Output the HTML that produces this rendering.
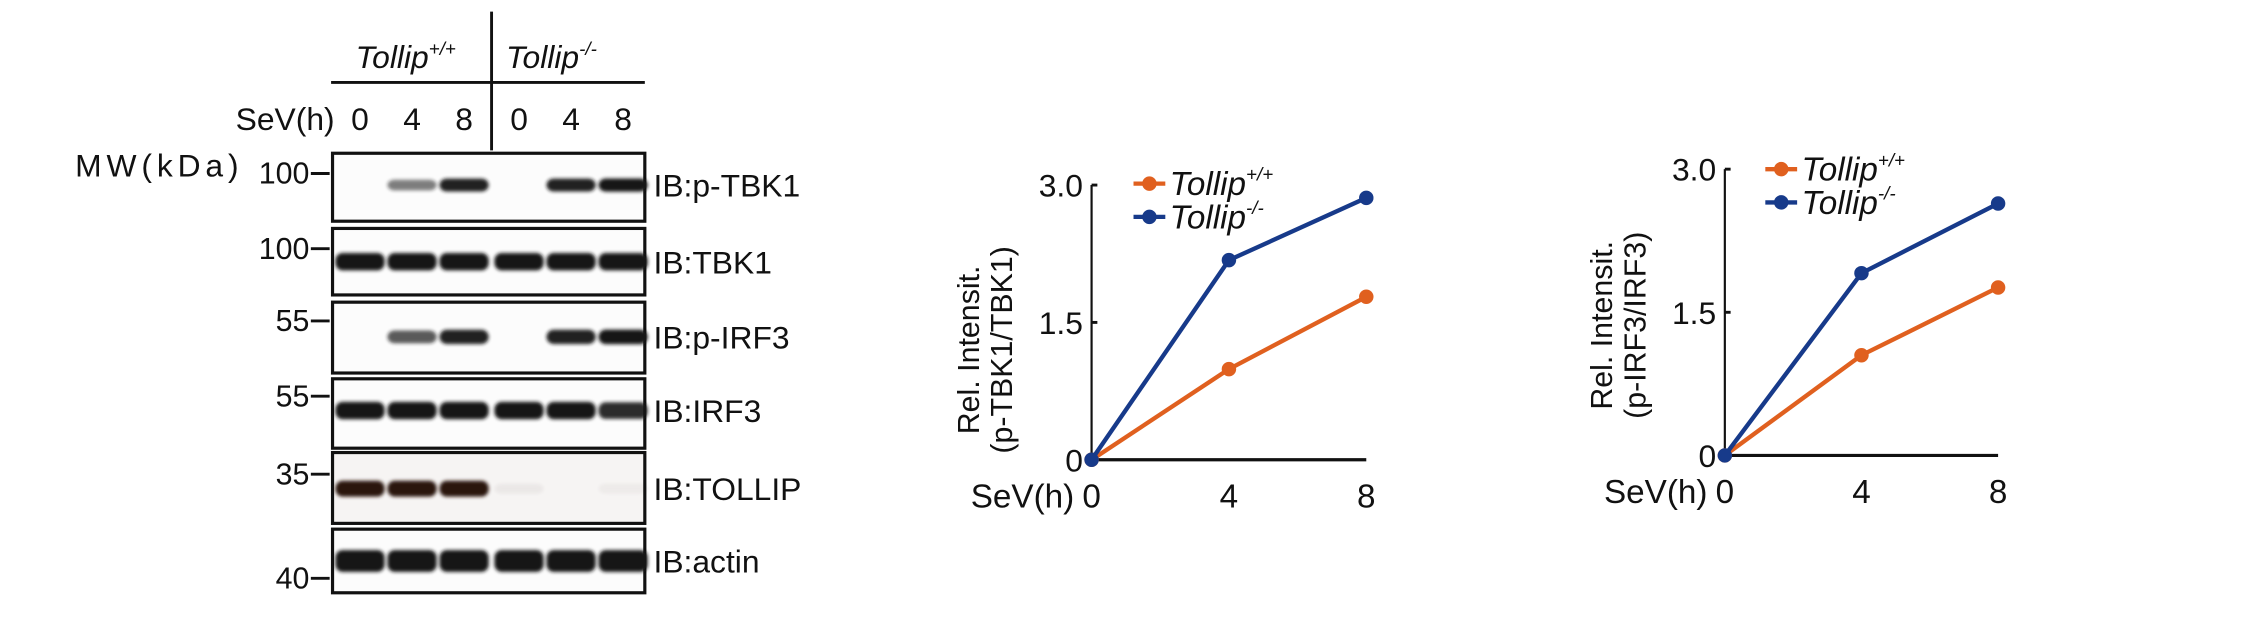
<!DOCTYPE html>
<html><head><meta charset="utf-8"><style>
html,body{margin:0;padding:0;background:#fff;width:2267px;height:613px;overflow:hidden}
#wrap{width:1568px;height:424px;transform:scale(1.4458);transform-origin:0 0;position:absolute;left:0;top:0}
text{font-family:"Liberation Sans",sans-serif;fill:#111}
</style></head><body>
<div id="wrap">
<svg width="1568" height="424" viewBox="0 0 1568 424" xmlns="http://www.w3.org/2000/svg">
<defs><filter id="blur" x="-20%" y="-50%" width="140%" height="200%"><feGaussianBlur stdDeviation="1.3"/></filter></defs>
<g id="blot">
  <line x1="340" y1="8" x2="340" y2="104" stroke="#111" stroke-width="2"/>
  <line x1="229" y1="57" x2="446" y2="57" stroke="#111" stroke-width="2"/>
  <text x="246" y="47" font-size="22" font-style="italic">Tollip<tspan font-size="13" dy="-9">+/+</tspan></text>
  <text x="350" y="47" font-size="22" font-style="italic">Tollip<tspan font-size="13" dy="-9">-/-</tspan></text>
  <text x="163" y="90" font-size="22">SeV(h)</text>
  <g font-size="22" text-anchor="middle">
    <text x="249" y="90">0</text><text x="285" y="90">4</text><text x="321" y="90">8</text>
    <text x="359" y="90">0</text><text x="395" y="90">4</text><text x="431" y="90">8</text>
  </g>
  <text x="52" y="122" font-size="22" textLength="113">MW(kDa)</text>
  <g id="rows"></g>
</g>
<g id="chart1"></g>
<g id="chart2"></g>
</svg>
</div>
<script>
const NS="http://www.w3.org/2000/svg";
function mk(tag,attrs,parent,txt){const e=document.createElementNS(NS,tag);for(const k in attrs)e.setAttribute(k,attrs[k]);if(txt!==undefined)e.textContent=txt;parent.appendChild(e);return e;}
const lanes=[249,285,321,359,395,431];
const blotRows=[
 {name:"p-TBK1",top:106,bot:153,mw:"100",mwy:120,band:128,int:[0,0.55,0.95,0,0.95,1],h:9},
 {name:"TBK1",top:158,bot:204,mw:"100",mwy:172,band:181,int:[1,1,1,1,1,1],h:12},
 {name:"p-IRF3",top:209,bot:258,mw:"55",mwy:222,band:233,int:[0,0.7,0.95,0,0.95,1],h:10},
 {name:"IRF3",top:262,bot:310,mw:"55",mwy:274,band:284,int:[1,1,1,1,1,0.9],h:12},
 {name:"TOLLIP",top:313,bot:362,mw:"35",mwy:328,band:338,int:[1,1,1,0.05,0,0.04],h:11,col:"#2a1410",bg:"#f6f4f3"},
 {name:"actin",top:366,bot:410,mw:"40",mwy:400,band:388,int:[1,1,1,1,1,1],h:15}
];
const rows=document.getElementById('rows');
blotRows.forEach(r=>{
  const g=mk('g',{},rows);
  
  
  mk('rect',{x:230,y:r.top,width:216,height:r.bot-r.top,fill:r.bg||"#fcfcfc",stroke:"#111","stroke-width":2.2},g);
  r.int.forEach((v,i)=>{ if(v<=0) return;
    const b=mk('rect',{x:lanes[i]-17,y:r.band-r.h/2*(0.6+0.4*v),width:34,height:r.h*(0.6+0.4*v),rx:5,fill:r.col||"#151515",opacity:v,filter:"url(#blur)"},g);
    
    
  });
  const l=mk('text',{x:452,y:r.band+8,"font-size":22},g,"IB:"+r.name);
  
  
  const m=mk('text',{x:214,y:r.mwy+7,"font-size":21,"text-anchor":"end"},g,r.mw);
  
  
  mk('line',{x1:215,y1:r.mwy,x2:228,y2:r.mwy,stroke:"#111","stroke-width":2},g);
});
const timePoints=[0,4,8];
const yTicks=[0,1.5,3.0];
const yTickLabels=["0","1.5","3.0"];
const tbkWT=[0,0.99,1.78];
const tbkKO=[0,2.18,2.86];
const irfWT=[0,1.05,1.76];
const irfKO=[0,1.91,2.64];
const ORANGE="#e0601f", BLUE="#173a8a";
function chart(gid,cfg){
  const g=document.getElementById(gid);
  const xs=v=>cfg.x0+(cfg.x1-cfg.x0)*v/8;
  const ys=v=>cfg.y0-(cfg.y0-cfg.y3)*v/3;
  const ax=mk('line',{x1:cfg.x0,y1:ys(3),x2:cfg.x0,y2:cfg.y0,stroke:"#111","stroke-width":1.5},g);
  
  const xa=mk('line',{x1:cfg.x0,y1:cfg.y0,x2:cfg.x1,y2:cfg.y0,stroke:"#111","stroke-width":2.2},g);
  
  yTicks.forEach((t,i)=>{
    mk('line',{x1:cfg.x0,y1:ys(t),x2:cfg.x0+4,y2:ys(t),stroke:"#111","stroke-width":2},g);
    const tl=mk('text',{x:cfg.x0-6,y:ys(t)+8,"font-size":22,"text-anchor":"end"},g,yTickLabels[i]);
    
  });
  timePoints.forEach(t=>{
    const xl=mk('text',{x:xs(t),y:cfg.y0+33,"font-size":23,"text-anchor":"middle"},g,String(t));
    
  });
  const sv=mk('text',{x:cfg.x0-12,y:cfg.y0+33,"font-size":23,"text-anchor":"end"},g,"SeV(h)");
  
  const tg=mk('text',{transform:`translate(${cfg.tx},${cfg.ty}) rotate(-90)`,"font-size":21,"text-anchor":"middle"},g);
  
  mk('tspan',{x:0,dy:0},tg,"Rel. Intensit.");
  mk('tspan',{x:0,dy:23},tg,cfg.title);
  [[cfg.wt,ORANGE,"wt"],[cfg.ko,BLUE,"ko"]].forEach(([d,c,n])=>{
    const pts=d.map((v,i)=>xs(timePoints[i])+","+ys(v)).join(" ");
    const pl=mk('polyline',{points:pts,fill:"none",stroke:c,"stroke-width":3},g);
    
    d.forEach((v,i)=>{
      const p=mk('circle',{cx:xs(timePoints[i]),cy:ys(v),r:5,fill:c},g);
      
    });
  });
  [[ORANGE,"+/+",cfg.ly],[BLUE,"-/-",cfg.ly+23]].forEach(([c,s,y],k)=>{
    const lg=mk('g',{},g);
    
    
    mk('line',{x1:cfg.lx-11,y1:y,x2:cfg.lx+11,y2:y,stroke:c,"stroke-width":3},lg);
    mk('circle',{cx:cfg.lx,cy:y,r:5,fill:c},lg);
    const t=mk('text',{x:cfg.lx+14,y:y+8,"font-size":23,"font-style":"italic"},lg,"Tollip");
    mk('tspan',{"font-size":13,dy:-10},t,s);
  });
}
chart('chart1',{x0:755,x1:945,y0:318,y3:128,wt:tbkWT,ko:tbkKO,title:"(p-TBK1/TBK1)",tx:677,ty:242,lx:795,ly:127});
chart('chart2',{x0:1193,x1:1382,y0:315,y3:117,wt:irfWT,ko:irfKO,title:"(p-IRF3/IRF3)",tx:1115,ty:225,lx:1232,ly:117});
</script>
</body></html>
